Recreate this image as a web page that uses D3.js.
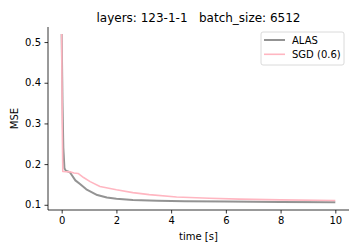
<!DOCTYPE html>
<html>
<head>
<meta charset="utf-8">
<script src="https://cdn.jsdelivr.net/npm/d3@7"></script>
<style>
  html, body { margin: 0; padding: 0; background: #fff; }
  svg { display: block; font-family: "DejaVu Sans", sans-serif; }
</style>
</head>
<body>
<div id="chart"></div>
<script>
const titleText = "layers: 123-1-1   batch_size: 6512";
const xTicks = [0, 2, 4, 6, 8, 10];
const yTicks = [0.1, 0.2, 0.3, 0.4, 0.5];

// ALAS curve: [time, mse]
const alasT = [0, 0.03, 0.06, 0.1, 0.15, 0.3, 0.38, 0.5, 0.67, 0.9, 1.3, 1.65, 2, 2.6, 3.5, 4.5, 6, 8, 10];
const alasY = [0.52, 0.35, 0.24, 0.19, 0.184, 0.18, 0.172, 0.16, 0.151, 0.138, 0.124, 0.118, 0.115, 0.112, 0.110, 0.109, 0.108, 0.107, 0.1065];

// SGD (0.6) curve
const sgdT = [0, 0.02, 0.04, 0.3, 0.45, 0.6, 0.8, 1.04, 1.4, 2, 2.6, 3.2, 4.2, 5.4, 6.5, 8, 10];
const sgdY = [0.52, 0.3, 0.182, 0.181, 0.178, 0.177, 0.167, 0.157, 0.145, 0.137, 0.130, 0.125, 0.119, 0.116, 0.114, 0.112, 0.1105];

const W = 360, H = 252;
const m = { left: 48, right: 11, top: 27, bottom: 42 };

const svg = d3.select("#chart").append("svg")
  .attr("width", W)
  .attr("height", H);

const x = d3.scaleLinear().domain([-0.5, 10.5]).range([m.left, W - m.right]);
const y = d3.scaleLinear().domain([0.0872, 0.537]).range([H - m.bottom, m.top]);

const line = d3.line().x(d => x(d[0])).y(d => y(d[1]));

const series = [
  { name: "ALAS", t: alasT, v: alasY, color: "#808080", width: 2, opacity: 0.85 },
  { name: "SGD (0.6)", t: sgdT, v: sgdY, color: "#ffb6c1", width: 1.6, opacity: 1 }
];

series.forEach(s => {
  svg.append("path")
    .datum(s.t.map((t, i) => [t, s.v[i]]))
    .attr("fill", "none")
    .attr("stroke", s.color)
    .attr("stroke-width", s.width)
    .attr("stroke-opacity", s.opacity)
    .attr("stroke-linejoin", "round")
    .attr("d", line);
});

// axes
const xAxis = svg.append("g")
  .attr("transform", `translate(0,${H - m.bottom})`)
  .call(d3.axisBottom(x).tickValues(xTicks).tickSize(3.5).tickPadding(3.5).tickFormat(d3.format("d")));
const yAxis = svg.append("g")
  .attr("transform", `translate(${m.left},0)`)
  .call(d3.axisLeft(y).tickValues(yTicks).tickSize(3.5).tickPadding(3.5).tickFormat(d3.format(".1f")));

[xAxis, yAxis].forEach(a => {
  a.selectAll("text").attr("font-size", 10).attr("fill", "#000").attr("font-family", "DejaVu Sans");
  a.selectAll("line").attr("stroke", "#000").attr("stroke-width", 0.8);
  a.select(".domain").attr("stroke", "#000").attr("stroke-width", 0.8);
});
xAxis.select(".domain").attr("d", `M${m.left},0H${W - m.right}`);
yAxis.select(".domain").attr("d", `M0,${H - m.bottom}V${m.top}`);

// labels
svg.append("text")
  .attr("x", (m.left + W - m.right) / 2)
  .attr("y", 21.5)
  .attr("text-anchor", "middle")
  .attr("font-size", 12)
  .style("white-space", "pre")
  .text(titleText);

svg.append("text")
  .attr("x", (m.left + W - m.right) / 2)
  .attr("y", 240)
  .attr("text-anchor", "middle")
  .attr("font-size", 10)
  .text("time [s]");

svg.append("text")
  .attr("transform", `translate(18,${(m.top + H - m.bottom) / 2}) rotate(-90)`)
  .attr("text-anchor", "middle")
  .attr("font-size", 10)
  .text("MSE");

// legend
const lg = svg.append("g").attr("transform", "translate(261,32)");
lg.append("rect")
  .attr("width", 83)
  .attr("height", 33)
  .attr("rx", 2)
  .attr("fill", "#fff")
  .attr("fill-opacity", 0.8)
  .attr("stroke", "#d0d0d0")
  .attr("stroke-width", 0.8);

series.forEach((s, i) => {
  const yy = 8 + i * 14.3;
  lg.append("line")
    .attr("x1", 3).attr("x2", 24)
    .attr("y1", yy).attr("y2", yy)
    .attr("stroke", s.color)
    .attr("stroke-width", s.width)
    .attr("stroke-opacity", s.opacity);
  lg.append("text")
    .attr("x", 31)
    .attr("y", yy + 3.5)
    .attr("font-size", 10)
    .text(s.name);
});
</script>
</body>
</html>
